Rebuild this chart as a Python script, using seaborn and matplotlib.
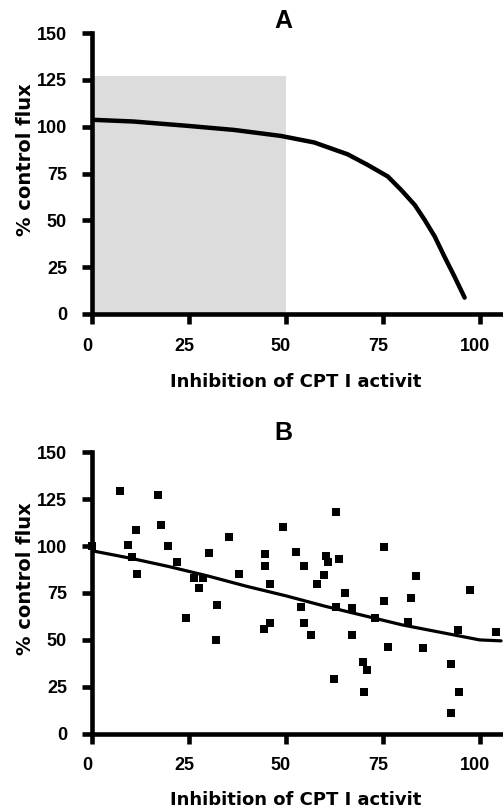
import numpy as np
import pandas as pd
import matplotlib
matplotlib.use("Agg")
import matplotlib.pyplot as plt
import matplotlib.transforms as mtransforms
import seaborn as sns

# panel A: flux control curve
curve_x = [0.3, 10.7, 24.5, 36.6, 48.7, 57.3, 65.9, 71.1, 76.3, 79.7, 83.2, 85.8, 88.4, 90.9, 93.5, 96.1]
curve_y = [103.7, 102.8, 100.5, 98.3, 95.1, 91.6, 85.3, 79.6, 73.4, 66.3, 58.3, 50.2, 41.3, 30.6, 19.9, 8.7]
shade_x = (0, 50)
shade_top = 127

# panel B: measured points and fitted line
pts_x = [0, 7.1, 9.3, 10.2, 11.3, 11.6, 17.1, 17.9, 19.6, 21.9, 24.2, 26.2, 27.5, 28.6,
         30.1, 32.0, 32.3, 35.2, 37.8, 44.4, 44.5, 44.5, 45.8, 45.8, 49.3, 52.5, 54.0,
         54.6, 54.7, 56.5, 58.0, 59.9, 60.3, 60.8, 62.4, 62.9, 63.0, 63.8, 65.2, 67.1,
         67.1, 69.9, 70.1, 71.0, 73.1, 75.3, 75.4, 76.4, 81.4, 82.3, 83.6, 85.3, 92.5,
         92.7, 94.4, 94.7, 97.5, 104.1]
pts_y = [100, 129.6, 100.7, 94.1, 108.5, 85.1, 127.3, 111, 100.2, 91.5, 61.9, 82.9, 77.8, 83,
         96.5, 49.7, 68.8, 104.6, 85.1, 56, 95.7, 89.5, 79.6, 58.9, 110.1, 96.6, 67.3,
         89.2, 59.2, 52.5, 79.6, 84.6, 94.8, 91.3, 29.1, 67.4, 117.9, 93.1, 75, 67.2,
         52.5, 38.5, 22.5, 33.9, 61.5, 99.3, 71, 46.3, 59.8, 72.6, 84.2, 45.7, 37.2,
         10.8, 55.4, 22.5, 76.4, 54.4]
fit_x = [0, 10, 20, 30, 40, 50, 60, 70, 80, 90, 100, 105.5]
fit_y = [97.5, 93.5, 89, 84, 78.5, 73.5, 68, 63, 58, 54, 50, 49.5]

xticks = [0, 25, 50, 75, 100]
yticks = [0, 25, 50, 75, 100, 125, 150]

sns.set_style("ticks")
plt.rcParams['font.family'] = ['Liberation Sans', 'DejaVu Sans']
plt.rcParams['font.weight'] = 'bold'
for key in ['axes.edgecolor', 'text.color', 'axes.labelcolor', 'xtick.color', 'ytick.color']:
    plt.rcParams[key] = 'black'

fig = plt.figure(figsize=(5.03, 8.09), dpi=100)
axA = fig.add_axes([0.183, 0.612, 0.817, 0.347])
axB = fig.add_axes([0.183, 0.093, 0.817, 0.348])

axA.axvspan(shade_x[0], shade_x[1], ymax=shade_top / 150, color='#dcdcdc', lw=0, zorder=0)
sns.lineplot(x=curve_x, y=curve_y, ax=axA, color='black', lw=3.2, sort=False)

sns.scatterplot(x=pts_x, y=pts_y, ax=axB, marker='s', s=26, color='black', linewidth=0,
                clip_on=False, zorder=3)
sns.lineplot(x=fit_x, y=fit_y, ax=axB, color='black', lw=2.3)

shift = mtransforms.ScaledTranslation(-5 / 100, 0, fig.dpi_scale_trans)
xlab_font = {'family': 'DejaVu Sans', 'size': 13, 'weight': 'bold'}
ylab_font = {'family': 'DejaVu Sans', 'size': 14, 'weight': 'bold'}
for ax, letter, ty, ly in [(axA, 'A', 1.0, -0.26), (axB, 'B', 1.025, -0.252)]:
    ax.set_xlim(0, 106)
    ax.set_ylim(0, 150)
    ax.set_xticks(xticks)
    ax.set_yticks(yticks)
    sns.despine(ax=ax)
    for s in ['left', 'bottom']:
        ax.spines[s].set_linewidth(3.3)
    ax.tick_params(width=3.3, length=7, labelsize=13, direction='out')
    ax.tick_params(axis='y', pad=11)
    ax.tick_params(axis='x', pad=10)
    for lab in ax.get_xticklabels() + ax.get_yticklabels():
        lab.set_fontweight('bold')
    for lab in ax.get_xticklabels():
        lab.set_transform(lab.get_transform() + shift)
    ax.set_xlabel('Inhibition of CPT I activit', fontdict=xlab_font, va='baseline')
    ax.set_ylabel('% control flux', fontdict=ylab_font)
    ax.xaxis.set_label_coords(0.496, ly)
    ax.yaxis.set_label_coords(-0.14, 0.55)
    ax.text(0.465, ty, letter, transform=ax.transAxes, ha='center', va='bottom',
            fontsize=18, fontweight='bold')

fig.savefig('out.png', dpi=100)
